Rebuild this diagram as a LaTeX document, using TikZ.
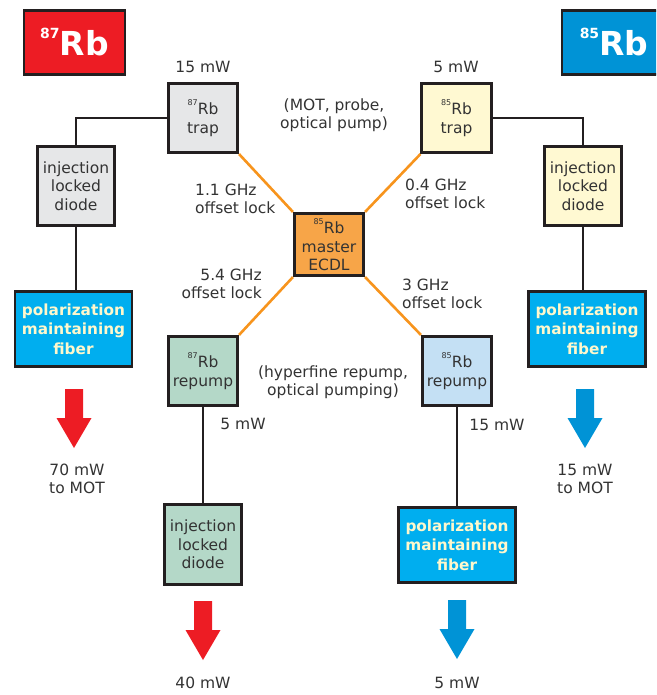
\documentclass[tikz,border=0pt]{standalone}
\usepackage{fontspec}
\setmainfont{DejaVu Sans}
\usetikzlibrary{positioning}
\definecolor{rbRed}{HTML}{ED1C24}
\definecolor{rbBlue}{HTML}{0093D6}
\definecolor{rbFiber}{HTML}{00AEEF}
\definecolor{rbCream}{HTML}{FFF8CC}
\definecolor{rbInk}{HTML}{231F20}
\definecolor{rbText}{HTML}{333333}
\definecolor{rbOrange}{HTML}{F7941D}
\definecolor{rbMaster}{HTML}{F7A548}
\definecolor{rbGray}{HTML}{E6E7E8}
\definecolor{rbYellow}{HTML}{FFF9D2}
\definecolor{rbGreen}{HTML}{B4D8C8}
\definecolor{rbSky}{HTML}{C4E0F4}
\newcommand\iso[1]{\raisebox{0.6em}{\fontsize{8}{8}\selectfont #1}}
\tikzset{
  rb box/.style={draw=rbInk, line width=2.6pt, inner sep=0pt, align=center, text=rbText, font=\fontsize{15.5}{18.5}\selectfont},
  rb laser/.style={rb box, minimum width=69.5pt, minimum height=69.5pt},
  rb diode/.style={rb box, minimum width=77.5pt, minimum height=79.5pt},
  rb fiber/.style={rb box, fill=rbFiber, minimum width=117pt, minimum height=75.5pt, text=rbCream, font=\bfseries\fontsize{15.3}{19.5}\selectfont},
  rb tag/.style={draw=rbInk, line width=2.6pt, inner sep=0pt, minimum width=101pt, minimum height=64.5pt, text=white, font=\bfseries\fontsize{33}{33}\selectfont},
  rb label/.style={align=center, text=rbText, font=\fontsize{15.5}{18.5}\selectfont, inner sep=0pt},
  rb link/.style={draw=rbInk, line width=2.6pt},
  rb lock/.style={draw=rbOrange, line width=2.6pt},
  beam/.pic={\fill (-9,0) -- (-9,29) -- (-17.5,29) -- (0,59) -- (17.5,29) -- (9,29) -- (9,0) -- cycle;},
}

\begin{document}
\begin{tikzpicture}[x=1pt, y=-1pt]
  \clip (0,0) rectangle (656,695);

  % Isotope tags in the top corners
  \node[rb tag, fill=rbRed] (tag87) at (74.5,42.5) {\raisebox{17pt}{\fontsize{14}{14}\selectfont 87}Rb};
  \node[rb tag, fill=rbBlue, minimum width=104pt] (tag85) at (614,42.5) {\raisebox{17pt}{\fontsize{14}{14}\selectfont 85}Rb};

  % Master laser and the four offset-locked lasers
  \node[rb box, fill=rbMaster, minimum width=69.5pt, minimum height=62.5pt] (master) at (329,244.5) {\iso{85}Rb\\master\\ECDL};
  \node[rb laser, fill=rbGray] (trap87) at (203,118) {\iso{87}Rb\\trap};
  \node[rb laser, fill=rbYellow] (trap85) at (456.5,118) {\iso{85}Rb\\trap};
  \node[rb laser, fill=rbGreen] (repump87) at (203,371) {\iso{87}Rb\\repump};
  \node[rb laser, fill=rbSky] (repump85) at (457,371) {\iso{85}Rb\\repump};

  % Slave diodes and fibers
  \node[rb diode, fill=rbGray] (diode87) at (76,186) {injection\\locked\\diode};
  \node[rb diode, fill=rbYellow] (diode85) at (583,186) {injection\\locked\\diode};
  \node[rb diode, fill=rbGreen] (diodeRep) at (203,544.5) {injection\\locked\\diode};
  \node[rb fiber] (fiber87) at (73.5,329) {polarization\\maintaining\\fiber};
  \node[rb fiber] (fiber85) at (587,329) {polarization\\maintaining\\fiber};
  \node[rb fiber] (fiberRep) at (457,545) {polarization\\maintaining\\fiber};

  % Offset locks
  \draw[rb lock] (master.north west) -- (trap87.south east);
  \draw[rb lock] (master.north east) -- (trap85.south west);
  \draw[rb lock] (master.south west) -- (repump87.north east);
  \draw[rb lock] (master.south east) -- (repump85.north west);

  % Injection and fiber links
  \draw[rb link] (trap87.west) -| (diode87.north);
  \draw[rb link] (diode87.south) -- (diode87.south |- fiber87.north);
  \draw[rb link] (trap85.east) -| (diode85.north);
  \draw[rb link] (diode85.south) -- (diode85.south |- fiber85.north);
  \draw[rb link] (repump87.south) -- (diodeRep.north);
  \draw[rb link] (repump85.south) -- (fiberRep.north);

  % Output beams
  \pic[fill=rbRed] at (74,389) {beam};
  \pic[fill=rbRed] at (203,601) {beam};
  \pic[fill=rbBlue] at (585,389) {beam};
  \pic[fill=rbBlue] at (457,600) {beam};

  % Powers and notes
  \node[rb label] (pTrap87) at (203,67) {15 mW};
  \node[rb label] (pTrap85) at (456,67) {5 mW};
  \node[rb label] (useTrap) at (334,115) {(MOT, probe,\\optical pump)};
  \node[rb label, align=left, anchor=west] (lock87) at (195,199) {1.1 GHz\\offset lock};
  \node[rb label, align=left, anchor=west] (lock85) at (405,194) {0.4 GHz\\offset lock};
  \node[rb label, align=right, anchor=east] (lockRep87) at (262,284) {5.4 GHz\\offset lock};
  \node[rb label, align=left, anchor=west] (lockRep85) at (402,294) {3 GHz\\offset lock};
  \node[rb label] (useRep) at (333,382) {(hyperfine repump,\\optical pumping)};
  \node[rb label] (pRep87) at (243,424) {5 mW};
  \node[rb label] (pRep85) at (497,425) {15 mW};
  \node[rb label] (out87) at (77,479) {70 mW\\to MOT};
  \node[rb label] (out85) at (585,479) {15 mW\\to MOT};
  \node[rb label] (outRep87) at (203,683) {40 mW};
  \node[rb label] (outRep85) at (457,683) {5 mW};
\end{tikzpicture}
\end{document}
